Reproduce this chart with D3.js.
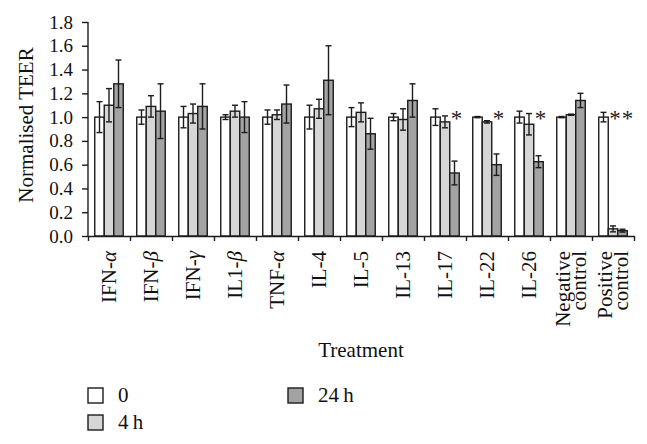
<!DOCTYPE html>
<html>
<head>
<meta charset="utf-8">
<script src="https://cdn.jsdelivr.net/npm/d3@7"></script>
<style>
  body { margin: 0; background: #fff; }
  svg { display: block; font-family: "Liberation Serif", "DejaVu Serif", serif; }
</style>
</head>
<body>
<svg id="chart" width="647" height="444"></svg>
<script>
const categories = ["IFN-α","IFN-β","IFN-γ","IL1-β","TNF-α","IL-4","IL-5","IL-13","IL-17","IL-22","IL-26","Negative control","Positive control"];
const seriesNames = ["0", "4\u2009h", "24\u2009h"];
const values0h  = [1.00, 1.00, 1.00, 1.00, 1.00, 1.00, 1.00, 1.00, 1.00, 1.00, 1.00, 1.00, 1.00];
const errors0h  = [0.13, 0.06, 0.09, 0.02, 0.06, 0.10, 0.08, 0.03, 0.07, 0.005, 0.05, 0.005, 0.04];
const values4h  = [1.10, 1.09, 1.03, 1.05, 1.02, 1.07, 1.04, 0.98, 0.96, 0.96, 0.94, 1.02, 0.06];
const errors4h  = [0.14, 0.09, 0.08, 0.05, 0.04, 0.08, 0.08, 0.09, 0.05, 0.01, 0.09, 0.005, 0.025];
const values24h = [1.28, 1.05, 1.09, 1.00, 1.11, 1.31, 0.86, 1.14, 0.53, 0.60, 0.625, 1.14, 0.045];
const errors24h = [0.20, 0.23, 0.19, 0.13, 0.16, 0.29, 0.13, 0.14, 0.10, 0.09, 0.05, 0.06, 0.012];
const yTicks = [0, 0.2, 0.4, 0.6, 0.8, 1.0, 1.2, 1.4, 1.6, 1.8];
// significance markers: category + series index
const signifCategories = ["IL-17", "IL-22", "IL-26", "Positive control", "Positive control"];
const signifSeries = [2, 2, 2, 1, 2];

const fills = ["#ffffff", "#d6d6d6", "#a3a3a3"];
const ink = "#1c1c1c";

const svg = d3.select("#chart");
const x = d3.scaleBand().domain(categories).range([88, 634]).padding(0);
const y = d3.scaleLinear().domain([0, 1.8]).range([236, 22]);
const barW = 9.5;
const groupOffset = i => x.bandwidth() / 2 + (i - 1) * barW;

const series = [
  { name: seriesNames[0], vals: values0h, errs: errors0h },
  { name: seriesNames[1], vals: values4h, errs: errors4h },
  { name: seriesNames[2], vals: values24h, errs: errors24h }
];

// bars
series.forEach((s, si) => {
  const g = svg.append("g");
  const data = categories.map((c, i) => ({ c, v: s.vals[i], e: s.errs[i] }));
  g.selectAll("rect").data(data).join("rect")
    .attr("x", d => x(d.c) + groupOffset(si) - barW / 2)
    .attr("y", d => y(d.v))
    .attr("width", barW)
    .attr("height", d => y(0) - y(d.v))
    .attr("fill", fills[si])
    .attr("stroke", ink)
    .attr("stroke-width", 1.4);
  // error bars
  const eb = g.selectAll("g.err").data(data).join("g").attr("class", "err");
  eb.append("line")
    .attr("x1", d => x(d.c) + groupOffset(si)).attr("x2", d => x(d.c) + groupOffset(si))
    .attr("y1", d => y(d.v - d.e)).attr("y2", d => y(d.v + d.e))
    .attr("stroke", ink).attr("stroke-width", 1.4);
  [1, -1].forEach(sign => {
    eb.append("line")
      .attr("x1", d => x(d.c) + groupOffset(si) - 3).attr("x2", d => x(d.c) + groupOffset(si) + 3)
      .attr("y1", d => y(d.v + sign * d.e)).attr("y2", d => y(d.v + sign * d.e))
      .attr("stroke", ink).attr("stroke-width", 1.4);
  });
});

// y axis
const yAxis = d3.axisLeft(y).tickValues(yTicks).tickFormat(d3.format(".1f")).tickSize(6).tickPadding(9);
const yg = svg.append("g").attr("transform", "translate(88,0)").call(yAxis);
yg.select(".domain").attr("stroke", ink).attr("stroke-width", 1.4).attr("d", "M0,22V236");
yg.selectAll(".tick line").attr("stroke", ink).attr("stroke-width", 1.4);
yg.selectAll(".tick text").attr("font-size", 19).attr("fill", "#111")
  .attr("font-family", "Liberation Serif, serif");

// x axis (ticks at band boundaries)
const xIdx = d3.scaleLinear().domain([0, categories.length]).range([88, 634]);
const xAxis = d3.axisBottom(xIdx).tickValues(d3.range(categories.length + 1)).tickFormat("").tickSize(5).tickSizeOuter(0);
const xg = svg.append("g").attr("transform", "translate(0,236)").call(xAxis);
xg.select(".domain").attr("stroke", ink).attr("stroke-width", 1.4);
xg.selectAll(".tick line").attr("stroke", ink).attr("stroke-width", 1.4);

// x labels
const labG = svg.append("g");
categories.forEach(c => {
  const cx = x(c) + x.bandwidth() / 2;
  const t = labG.append("text")
    .attr("transform", `translate(${cx},251) rotate(-90)`)
    .attr("text-anchor", "end")
    .attr("font-size", 21)
    .attr("fill", "#111");
  const words = c.split(" ");
  if (words.length === 1) {
    const m = c.match(/^(.*?)([αβγ])?$/);
    t.append("tspan").attr("x", 0).attr("dy", "0.35em").text(m[1]);
    if (m[2]) t.append("tspan").attr("font-style", "italic").text(m[2]);
  } else {
    t.append("tspan").attr("x", 0).attr("y", 0).attr("dy", "-0.04em").text(words[0]);
    t.append("tspan").attr("x", 0).attr("y", 0).attr("dy", "0.72em").text(words[1]);
  }
});

// significance asterisks (markers in the same group are kept apart)
let prevCat = null, prevX = -Infinity;
signifCategories.forEach((c, i) => {
  let ax = x(c) + groupOffset(signifSeries[i]) + 2;
  if (c === prevCat) ax = Math.max(ax, prevX + 12.6);
  prevCat = c; prevX = ax;
  svg.append("text")
    .attr("x", ax)
    .attr("y", y(1.0) + 9)
    .attr("text-anchor", "middle")
    .attr("font-size", 23)
    .attr("fill", "#222")
    .text("*");
});

// axis titles
svg.append("text")
  .attr("transform", "translate(33,125) rotate(-90)")
  .attr("text-anchor", "middle")
  .attr("font-size", 21)
  .attr("fill", "#111")
  .text("Normalised TEER");
svg.append("text")
  .attr("x", 361).attr("y", 357)
  .attr("text-anchor", "middle")
  .attr("font-size", 21)
  .attr("fill", "#111")
  .text("Treatment");

// legend
const legendPos = [[88, 388], [88, 415], [288, 388]];
series.forEach((s, i) => {
  const [lx, ly] = legendPos[i];
  svg.append("rect").attr("x", lx).attr("y", ly).attr("width", 15).attr("height", 15)
    .attr("fill", fills[i]).attr("stroke", ink).attr("stroke-width", 1.4);
  svg.append("text").attr("x", lx + 30).attr("y", ly + 14)
    .attr("font-size", 21).attr("fill", "#111").text(s.name);
});
</script>
</body>
</html>
